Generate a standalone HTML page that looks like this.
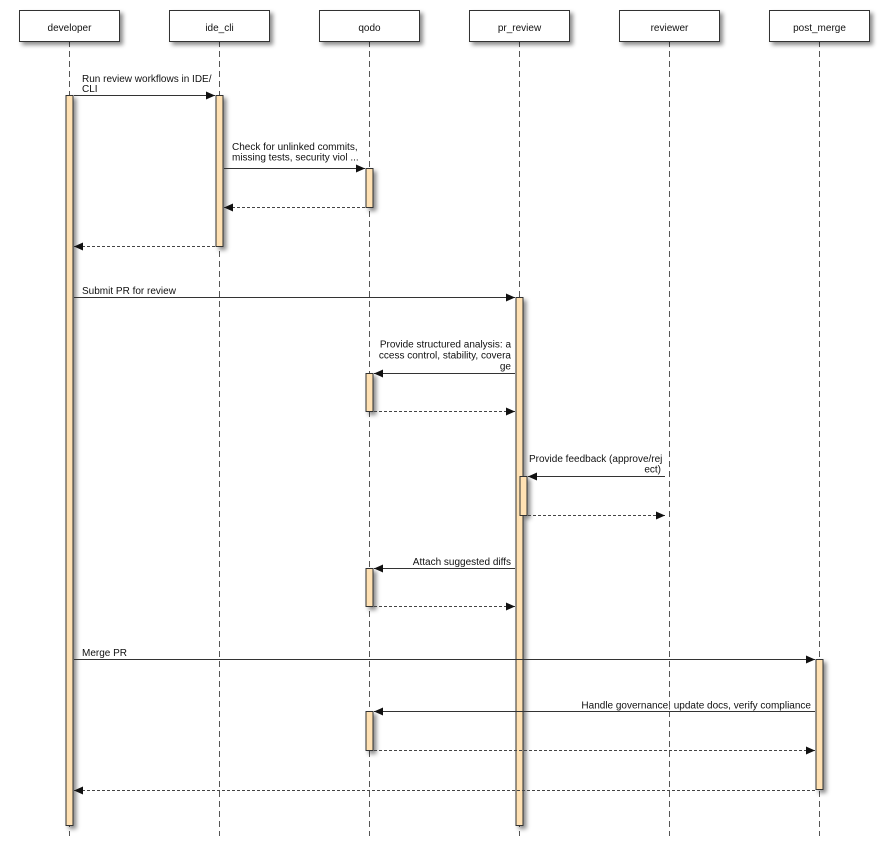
<!DOCTYPE html>
<html><head><meta charset="utf-8"><style>
html,body{margin:0;padding:0;background:#fff;}
svg{display:block;}
text{font-family:"Liberation Sans",Arial,sans-serif;font-size:10px;fill:#111;}
</style></head><body>
<svg width="888" height="844" viewBox="0 0 888 844" xmlns="http://www.w3.org/2000/svg">
<defs>
<filter id="sh" x="-50%" y="-50%" width="200%" height="200%">
<feDropShadow dx="3" dy="3" stdDeviation="2" flood-color="#000" flood-opacity="0.45"/>
</filter>
<marker id="ah" markerWidth="10" markerHeight="8" refX="9" refY="4" orient="auto" markerUnits="userSpaceOnUse">
<path d="M0,0 L9,4 L0,8 z" fill="#111"/>
</marker>
</defs>

<!-- lifelines -->
<g stroke="#555" stroke-width="1" stroke-dasharray="6,4">
<line x1="69.5" y1="41" x2="69.5" y2="836"/>
<line x1="219.5" y1="41" x2="219.5" y2="836"/>
<line x1="369.5" y1="41" x2="369.5" y2="836"/>
<line x1="519.5" y1="41" x2="519.5" y2="836"/>
<line x1="669.5" y1="41" x2="669.5" y2="836"/>
<line x1="819.5" y1="41" x2="819.5" y2="836"/>
</g>

<!-- header boxes -->
<g fill="#fff" stroke="#333" stroke-width="1" filter="url(#sh)">
<rect x="19.5" y="10.5" width="100" height="31"/>
<rect x="169.5" y="10.5" width="100" height="31"/>
<rect x="319.5" y="10.5" width="100" height="31"/>
<rect x="469.5" y="10.5" width="100" height="31"/>
<rect x="619.5" y="10.5" width="100" height="31"/>
<rect x="769.5" y="10.5" width="100" height="31"/>
</g>
<g text-anchor="middle">
<text x="69.5" y="31">developer</text>
<text x="219.5" y="31">ide_cli</text>
<text x="369.5" y="31">qodo</text>
<text x="519.5" y="31">pr_review</text>
<text x="669.5" y="31">reviewer</text>
<text x="819.5" y="31">post_merge</text>
</g>

<!-- activation bars -->
<g fill="#FFE1B3" stroke="#333" stroke-width="1" filter="url(#sh)">
<rect x="66" y="95.5" width="7" height="730"/>
<rect x="216" y="95.5" width="7" height="151"/>
<rect x="366" y="168.5" width="7" height="39"/>
<rect x="516" y="297.5" width="7" height="528"/>
<rect x="366" y="373.5" width="7" height="38"/>
<rect x="520" y="476.5" width="7" height="39"/>
<rect x="366" y="568.5" width="7" height="38"/>
<rect x="816" y="659.5" width="7" height="130"/>
<rect x="366" y="711.5" width="7" height="39"/>
</g>

<!-- solid messages -->
<g stroke="#333" stroke-width="1" marker-end="url(#ah)">
<line x1="74" y1="95.5" x2="215" y2="95.5"/>
<line x1="224" y1="168.5" x2="365" y2="168.5"/>
<line x1="74" y1="297.5" x2="515" y2="297.5"/>
<line x1="515" y1="373.5" x2="374" y2="373.5"/>
<line x1="665" y1="476.5" x2="528" y2="476.5"/>
<line x1="515" y1="568.5" x2="374" y2="568.5"/>
<line x1="74" y1="659.5" x2="815" y2="659.5"/>
<line x1="815" y1="711.5" x2="374" y2="711.5"/>
</g>

<!-- dashed returns -->
<g stroke="#444" stroke-width="1" stroke-dasharray="3,2" marker-end="url(#ah)">
<line x1="365" y1="207.5" x2="224" y2="207.5"/>
<line x1="215" y1="246.5" x2="74" y2="246.5"/>
<line x1="374" y1="411.5" x2="515" y2="411.5"/>
<line x1="528" y1="515.5" x2="665" y2="515.5"/>
<line x1="374" y1="606.5" x2="515" y2="606.5"/>
<line x1="374" y1="750.5" x2="815" y2="750.5"/>
<line x1="815" y1="790.5" x2="74" y2="790.5"/>
</g>

<!-- labels -->
<text x="82" y="82">Run review workflows in IDE/</text>
<text x="82" y="92">CLI</text>
<text x="232" y="150">Check for unlinked commits,</text>
<text x="232" y="160.5">missing tests, security viol ...</text>
<text x="82" y="294">Submit PR for review</text>
<g text-anchor="end">
<text x="511" y="347.5">Provide structured analysis: a</text>
<text x="511" y="358.5">ccess control, stability, covera</text>
<text x="511" y="369.5">ge</text>
</g>
<text x="529" y="462">Provide feedback (approve/rej</text>
<text x="661" y="472.5" text-anchor="end">ect)</text>
<text x="511" y="565" text-anchor="end">Attach suggested diffs</text>
<text x="82" y="656">Merge PR</text>
<text x="811" y="708.5" text-anchor="end">Handle governance, update docs, verify compliance</text>
</svg>
</body></html>
